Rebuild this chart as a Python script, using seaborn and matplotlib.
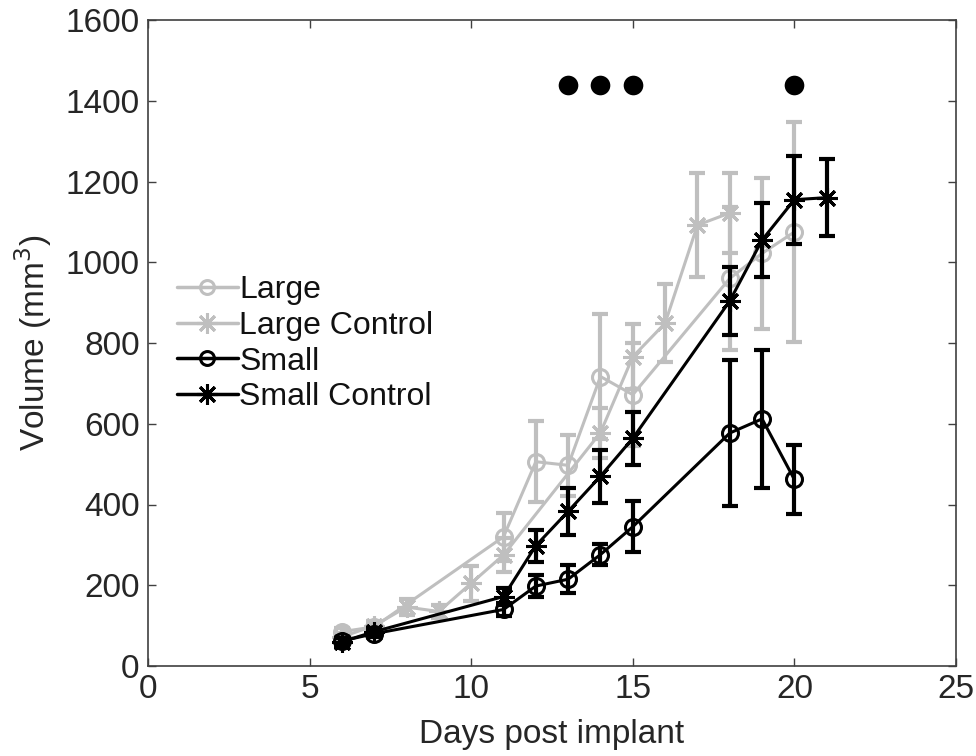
import numpy as np
import pandas as pd
import matplotlib
matplotlib.use("Agg")
import matplotlib.pyplot as plt
import seaborn as sns
from matplotlib.lines import Line2D

# ---- data ----
large_days = [6, 7, 11, 12, 13, 14, 15, 18, 19, 20]
large_vals = [85, 97, 320, 506, 497, 717, 672, 960, 1022, 1075]
large_err = [10, 10, 60, 100, 75, 155, 128, 177, 187, 272]

lctrl_days = [6, 7, 8, 9, 10, 11, 14, 15, 16, 17, 18]
lctrl_vals = [72, 100, 146, 135, 205, 275, 578, 766, 849, 1092, 1122]
lctrl_err = [10, 12, 20, 15, 43, 42, 62, 80, 97, 128, 100]

small_days = [6, 7, 11, 12, 13, 14, 15, 18, 19, 20]
small_vals = [62, 80, 140, 198, 215, 276, 345, 577, 612, 462]
small_err = [8, 8, 15, 28, 35, 27, 63, 180, 170, 86]

sctrl_days = [6, 7, 11, 12, 13, 14, 15, 18, 19, 20, 21]
sctrl_vals = [60, 85, 172, 298, 383, 470, 564, 904, 1055, 1155, 1160]
sctrl_err = [10, 10, 20, 40, 58, 66, 65, 83, 92, 109, 96]

sig_days = [13, 14, 15, 20]
sig_level = [1440, 1440, 1440, 1440]

groups = ["Large", "Large Control", "Small", "Small Control"]
xticks = [0, 5, 10, 15, 20, 25]
yticks = [0, 200, 400, 600, 800, 1000, 1200, 1400, 1600]

# ---- styling ----
sns.set_theme(style="white")
plt.rcParams['font.family'] = ['Liberation Sans', 'DejaVu Sans']

GRAY = "#bfbfbf"
colors = {"Large": GRAY, "Large Control": GRAY, "Small": "black", "Small Control": "black"}
star = (8, 2, 0)
markers = {"Large": "o", "Large Control": star, "Small": "o", "Small Control": star}

frames = []
for g, d, v, e in [("Large", large_days, large_vals, large_err),
                   ("Large Control", lctrl_days, lctrl_vals, lctrl_err),
                   ("Small", small_days, small_vals, small_err),
                   ("Small Control", sctrl_days, sctrl_vals, sctrl_err)]:
    frames.append(pd.DataFrame({"day": d, "vol": v, "err": e, "group": g}))
df = pd.concat(frames, ignore_index=True)

fig = plt.figure(figsize=(9.76, 7.56), dpi=100)
ax = fig.add_axes([148/976, 90/756, (956-148)/976, (666-20)/756])

for g in groups:
    sub = df[df.group == g]
    ax.errorbar(sub.day, sub.vol, yerr=sub.err, fmt="none", ecolor=colors[g],
                elinewidth=3.0, capsize=5.5, capthick=3.0, zorder=2 if "Large" in g else 4)

for g in groups:
    sub = df[df.group == g]
    sns.lineplot(data=sub, x="day", y="vol", ax=ax, color=colors[g],
                 marker=markers[g], markersize=11.5 if markers[g] == "o" else 15,
                 markerfacecolor="none" if markers[g] == "o" else colors[g],
                 markeredgecolor=colors[g], markeredgewidth=2.2,
                 linewidth=2.2, legend=False, zorder=3 if "Large" in g else 5,
                 errorbar=None)

sns.scatterplot(x=sig_days, y=sig_level, ax=ax, color="black", s=200,
                edgecolor="black", linewidth=0, zorder=6, legend=False)

ax.set_xlim(0, 25)
ax.set_ylim(0, 1600)
ax.set_xticks(xticks)
ax.set_yticks(yticks)
ax.set_xticklabels([str(t) for t in xticks])
ax.set_yticklabels([str(t) for t in yticks])
ax.tick_params(direction="in", length=6, width=1, colors="#404040",
               labelcolor="#262626", labelsize=24, top=True, right=True,
               left=True, bottom=True, pad=6)
for s in ax.spines.values():
    s.set_color("#404040")
    s.set_linewidth(1.2)
    s.set_visible(True)

ax.set_xlabel("Days post implant", fontsize=24, color="#262626", labelpad=10)
ax.set_ylabel("Volume (mm$^3$)", fontsize=24, color="#262626", labelpad=8)

handles = []
for g in groups:
    m = markers[g]
    handles.append(Line2D([0], [0], color=colors[g], linewidth=2.5, marker=m,
                          markersize=10 if m == "o" else 15,
                          markerfacecolor="none" if m == "o" else colors[g],
                          markeredgecolor=colors[g], markeredgewidth=2.2))
leg = ax.legend(handles, groups, loc="upper left", bbox_to_anchor=(0.02, 0.625),
                frameon=False, fontsize=23, handlelength=1.9, handletextpad=0.05,
                labelspacing=0.18, borderaxespad=0)
for t in leg.get_texts():
    t.set_color("#111111")

fig.savefig("out.png", dpi=100)
